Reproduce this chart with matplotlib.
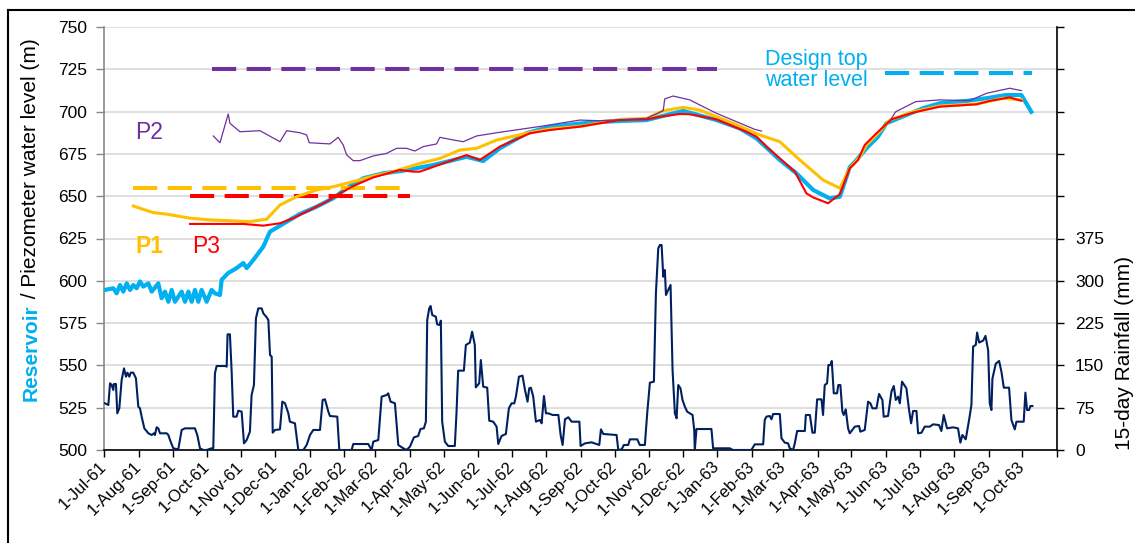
import matplotlib
matplotlib.use('Agg')
import matplotlib.pyplot as plt
from matplotlib.lines import Line2D
import numpy as np
from datetime import datetime, timedelta

plt.rcParams['font.family'] = ['Liberation Sans', 'DejaVu Sans']

START = datetime(1961, 7, 1)   # day 0 of all "day" values below

# ---------------- data: (days since 1-Jul-61, value) ----------------
reservoir = [(0.9,594.6),(8.3,595.6),(11.3,592.6),(14.3,597.5),(17.3,593.6),(20.3,598.5),(23.3,594.6),
             (26.2,597.5),(29.2,595.6),(32.2,599.6),(35.2,596.6),(39.7,598.5),(42.7,593.6),(48.6,598.5),
             (51.6,589.7),(54.6,593.6),(57.6,587.6),(60.6,594.6),(63.5,587.6),(66.5,590.6),(69.5,593.6),
             (72.5,587.6),(75.5,593.6),(78.5,587.6),(81.4,594.6),(84.4,587.6),(87.4,594.6),(91.9,587.6),
             (96.3,594.6),(99.3,592.6),(103.8,591.6),(105.3,600.6),(111.2,604.6),(118.7,607.5),(124.7,610.5),
             (127.7,607.5),(133.6,612.3),(142.6,620.2),(148.5,629.0),(163.5,634.9),(175.4,639.5),(190.3,643.8),
             (205.2,648.8),(217.2,654.7),(232,660.6),(249.9,663.5),(265,664.8),(294.7,668.4),(324.5,673.3),
             (339.4,670.8),(354.3,678.3),(378.2,687.2),(399,691.1),(428.9,693.1),(458.7,694.4),(485.6,695),
             (518.4,700.4),(548.2,695),(569,690.1),(584,684.2),(604.9,671.4),(619.8,663.5),(634.7,653.7),
             (649.6,648.7),(658.6,649.7),(667.5,667.1),(673.5,671.4),(682.4,678.3),(692.8,685.2),(700.3,693.1),
             (718.2,698),(733.1,702),(748,704.9),(771.9,706.3),(789.8,707.9),(807.7,709.8),(821.1,709.8),
             (830,699.9)]

p1 = [(26.2,644.2),(44.1,640.3),(56.1,639.4),(77,637),(94.8,636),(115.7,635.4),(130.6,635),(145.6,636.4),
      (157.5,644.8),(172.4,649.7),(190.3,653.7),(205.2,655.6),(223.1,658.6),(241,661.9),(258.9,664.5),
      (282.7,669.4),(300.6,672.3),(318.5,677.3),(333.5,678.3),(351.4,683.2),(378.2,687.2),(399,689.7),
      (428.9,691.5),(461.7,695.4),(485.6,696),(500.5,700.5),(518.4,702.5),(533.3,700.9),(563.1,693.1),
      (587,686.2),(604.9,682.2),(622.8,671.4),(643.6,659.6),(658.6,654.7),(667.5,666.5),(676.5,673.3),
      (682.4,680.3),(691.4,686.2),(703.3,695),(724.2,699.9),(748,703.3),(780.9,704.5),(804.7,707.9),
      (821.1,706.9)]

p3 = [(77,633.6),(124.7,633.6),(142.6,632.6),(157.5,634),(169.4,637),(181.4,640.9),(199.3,646.8),
      (211.2,651.7),(223.1,656),(241,661.1),(264.9,665.5),(276.8,664.5),(282.7,664.5),(324.5,674.3),
      (336.4,671.4),(354.3,679.3),(381.2,687.2),(399,689.1),(425.9,691.1),(443.8,693.1),(461.7,695),
      (485.6,695.4),(497.5,696.9),(515.4,698.6),(524.4,698.4),(548.2,695.4),(575,688.1),(584,685.2),
      (593,679.3),(618.3,664.5),(628.7,651.7),(634.7,649.3),(648.1,645.8),(658.6,651.2),(667.5,666.5),
      (674.9,671.4),(680.9,680.3),(691.4,687.2),(704.8,695.4),(724.2,699.4),(748,702.9),(780.9,704.3),
      (792.8,706.3),(810.7,708.4),(821.1,706.4)]

p2 = [(97.8,685.6),(103.8,681.6),(111.2,698.6),(112.7,693.1),(121.7,688.1),(139.6,688.7),(157.5,682.2),
      (163.5,688.7),(175.4,687.5),(181.4,686.2),(183.7,681.6),(202.2,680.9),(209.6,684.8),(214.1,680.3),
      (217.2,674.4),(223.1,671),(229,671),(241,673.8),(252.9,675.3),(261.9,678.3),(270.8,678.3),
      (278.3,676.7),(285.7,679.3),(297.7,680.9),(300.6,684.8),(309.6,683.6),(321.5,682.2),(333.5,685.6),
      (351.4,687.5),(393.1,691.5),(425.9,695),(443.8,694.6),(485.6,696),(500.5,700.5),(501.9,707.5),
      (509.4,709.2),(524.4,706.9),(533.3,703.9),(548.2,699),(582.5,689.5),(588.5,688.5),(650,np.nan),
      (704.8,696),(708.6,699.9),(726.5,705.9),(748,706.9),(774.9,706.5),(789.8,710.8),(810.7,713.8),
      (821.1,712.4)]

rainfall = [(0.9,82.8),(3.9,79.8),(5.4,118.2),(6.9,115.2),(8.3,106.4),(8.9,117),(10.7,117),(11.9,65.0),
            (13.7,73.9),(15.8,124.1),(17.9,144.8),(19.7,130),(20.9,137.1),(22.7,130),(23.9,137.1),
            (26.2,137.1),(28.6,127.1),(30.7,76.9),(32.2,73.9),(33.7,59.1),(36.1,38.4),(39.7,29.6),
            (42.7,26.6),(44.7,29.6),(45.6,26.6),(47.1,40.2),(48.6,38.4),(50.1,29.6),(56.1,29.6),(57.6,26.6),
            (59.1,17.7),(62.0,3.0),(66.5,1.2),(69.5,35.5),(72.5,38.4),(81.4,38.4),(83.5,26.6),(85.9,3.0),
            (88.9,0),(91.9,0),(96.3,3.0),(97.8,3.0),(99.3,135.9),(100.8,148.9),(108.3,148.9),(109.8,147.8),
            (110.6,205.1),(112.7,205.1),(114.2,141.8),(115.7,59.1),(118.7,59.1),(120.2,69.7),(123.2,68.0),
            (125.3,11.8),(127.7,17.7),(130.6,32.5),(132.1,97.5),(134.2,115.2),(136.0,233.4),(138.1,251.1),
            (141.1,251.1),(142.6,242.3),(145.6,235.2),(147.1,230.5),(148.6,168.4),(150.1,165.5),(151.0,30.7),
            (153.1,35.5),(157.5,36.6),(159.6,85.7),(162.0,82.8),(165.0,65),(166.4,50.2),(170.9,47.3),
            (173.9,0),(178.4,0),(181.4,8.9),(184.4,26.6),(187.3,35.5),(193.3,35.5),(195.7,88.7),(197.8,89.8),
            (200.8,68),(202.2,60.3),(208.8,59.1),(210.6,0),(221.6,0),(223.1,10.6),(236.5,10.6),(239.5,0),
            (241.0,14.8),(245.5,17.7),(248.5,94.6),(253.0,97.5),(254.4,100.5),(256.5,85.7),(260.4,82.8),
            (263.4,8.9),(267.9,3.0),(270.8,0),(273.8,5.9),(277.4,22.4),(281.2,24.8),
            (283.3,37.2),(286.3,38.4),(288.1,50.2),(289.3,230.5),(291.1,251.1),(292.3,255.3),(293.8,239.4),
            (297.0,236.4),(298.2,222.8),(300.6,221.6),(301.5,229.3),(302.7,50.2),(305.1,14.8),(308.1,7.1),
            (314.0,7.1),(315.5,65),(317.0,140.7),(322.1,140.7),(323.9,186.2),(327.4,190.3),(329.5,209.8),
            (331.9,186.2),(332.8,111.1),(335.8,118.2),(337.3,159.5),(339.4,112.3),(343.0,110.5),(344.8,52),
            (348.4,50.2),(351.4,41.4),(352.9,10.6),(355.8,24.8),(359.7,28.4),(362.4,73.9),(364.8,82.7),
            (367.2,82.7),(368.7,94.6),(371.4,130),(374.6,131.8),(376.7,107.6),(379.1,85.7),(380.6,109.4),
            (382.1,110.5),(384.2,94.6),(386.6,50.2),(390.2,53.2),(391.7,47.3),(393.8,95.7),(395.6,65),
            (397.7,65),(401.6,62.1),(406.7,62.1),(408.7,26.6),(410.5,8.9),(412.6,54.4),(415.6,58.0),
            (418.6,50.2),(425.5,50.2),(426.6,7.1),(430.5,11.8),(436.5,13.6),(443.3,8.9),(444.8,36.6),
            (446.9,28.4),(458.8,26.6),(460.3,0),(463.3,1.2),(465.3,8.9),(469.2,8.9),(470.7,18.9),(477.3,18.9),
            (479.6,8.9),(484.1,8.9),(486.2,65),(488.6,119.4),(492.2,121.2),(494.0,277.8),(496.1,357.6),
            (497.6,363.5),(499.1,363.5),(500.6,307.3),(502.0,319.1),(503.0,274.8),(505.0,283.7),(507.1,292.5),
            (508.9,141.8),(511.0,65),(512.5,56.1),(514.0,115.2),(516.0,109.3),(517.8,88.7),(519.9,76.8),
            (522.0,67.9),(526.8,62.1),(528.3,35.5),(528.8,0),(530.3,37.2),(543.7,37.2),(545.2,3.0),
            (560.1,3.0),(563.0,0),(579.4,0),
            (582.5,10.0),(590.0,10.0),(591.4,53.2),(592.9,59.1),(595.9,60.3),(597.4,54.4),(598.9,63.8),
            (604.9,63.8),(606.4,20.7),(609.4,13.0),(612.3,11.8),(613.8,3.0),(616.8,0),(618.3,11.8),
            (620.4,33.7),(627.3,33.7),(628.2,62.1),(631.8,62.1),(634.1,30.7),(636.2,30.7),(638.3,89.8),
            (642.2,89.8),(643.6,62.1),(645.1,115.2),(647.2,118.2),(648.4,150.7),(650.2,150.7),(651.4,157.8),
            (653.2,100.5),(656.1,100.5),(657.3,115.2),(659.1,115.2),(660.9,68),(662.1,62.1),(663.9,72.1),
            (666.0,38.4),(667.5,29.6),(672.0,41.4),(675.8,42.6),(677.0,32.5),(680.9,35.5),(683.9,85.7),
            (686.0,82.7),(687.8,73.9),(691.4,73.9),(693.7,99.3),(696.7,88.7),(697.9,59.1),(701.8,60.3),
            (704.8,103.4),(706.9,113.5),(708.7,88.7),(710.8,94.6),(712.3,82.7),(714.3,121.2),(718.2,109.3),
            (720.6,70.9),(722.4,47.3),(724.2,69.2),(727.2,69.2),(728.7,29.6),(731.7,30.7),(734.6,41.4),
            (739.1,41.4),(742.1,45.5),(747.4,44.3),(749.5,33.7),(751.6,62.1),(754.6,38.4),(760.0,40.2),
            (764.4,38.4),(766.5,13.0),(768.3,26.6),(771.3,18.9),(774.3,53.2),(776.4,79.8),(777.9,183.4),
            (780.3,186.3),(781.5,208.2),(783.3,190.5),(786.9,194),(789.0,202.3),(791.4,176.3),(792.8,82.7),
            (794.3,70.9),(795.2,126.5),(798.2,153.1),(801.2,157.8),(803.3,138.3),(805.4,110.5),(810.1,110.5),
            (812.2,53.2),(815.2,36.6),(816.7,50.2),(823.2,50.2),(824.7,101.7),(826.2,70.9),(828.0,70.9),
            (829.2,78.0),(831.0,78.0)]

# design levels: (start day, end day, level)
p2_design = (97, 549, 725)
p1_design = (26, 274, 655)
p3_design = (77, 274, 650)
top_water_design = (699, 831, 723)

left_ticks = list(range(500, 751, 25))
right_ticks = list(range(0, 751, 75))
right_labelled_max = 375

CYAN = '#00B0F0'
ORANGE = '#FFC000'
RED = '#FF0000'
PURPLE = '#7030A0'
NAVY = '#002060'


def to_dates(days):
    return [START + timedelta(days=float(d)) for d in days]


def split(pairs):
    d = [p[0] for p in pairs]
    v = [p[1] for p in pairs]
    return to_dates(d), v


W, H = 1135, 543
fig = plt.figure(figsize=(W / 100, H / 100), dpi=100)
ax = fig.add_axes([104 / W, 1 - 450 / H, (1057 - 104) / W, (450 - 27) / H])
ax2 = ax.twinx()

# grid
ax.set_ylim(500, 750)
ax.set_yticks(left_ticks)
ax.yaxis.grid(True, color='#D9D9D9', lw=1.2)
ax.set_axisbelow(True)

# series on primary axis
for pairs, col, lw, z in [(reservoir, CYAN, 3.0, 3), (p1, ORANGE, 2.2, 4), (p3, RED, 1.5, 5), (p2, PURPLE, 0.9, 6)]:
    x, y = split(pairs)
    ax.plot(x, y, color=col, lw=lw, zorder=z, solid_joinstyle='round')

# design lines
for (s, e, lvl), col in [(p2_design, PURPLE), (p1_design, ORANGE), (p3_design, RED), (top_water_design, CYAN)]:
    ax.plot(to_dates([s, e]), [lvl, lvl], color=col, lw=2.9, dashes=(6.0, 2.6), zorder=3,
            solid_capstyle='butt', dash_capstyle='butt')

# rainfall on secondary axis
rx, ry = split(rainfall)
ax2.plot(rx, ry, color=NAVY, lw=1.5)
ax2.set_ylim(0, 750)
ax2.set_yticks(right_ticks)
ax2.set_yticklabels([str(t) if t <= right_labelled_max else '' for t in right_ticks])

# x axis (monthly)
months = [datetime(1961 + (6 + i) // 12, (6 + i) % 12 + 1, 1) for i in range(29)]
ax.set_xlim(months[0], months[-1])
ax.set_xticks(months)
ax.set_xticklabels([f"1-{m:%b-%y}" for m in months[:-1]] + [''], rotation=45, ha='right',
                   va='center', rotation_mode='anchor', fontsize=12)
ax.tick_params(axis='x', direction='out', length=5, width=1, color='black', pad=5)
ax.tick_params(axis='y', direction='out', length=6, width=1, color='#898989', labelsize=12.5, pad=6)
ax2.tick_params(axis='y', direction='out', length=5, width=1, color='black', labelsize=12.5, pad=8)

for sp in ['top', 'right']:
    ax.spines[sp].set_visible(False)
for sp in ['top', 'left', 'bottom']:
    ax2.spines[sp].set_visible(False)
ax.spines['left'].set_color('#898989')
ax.spines['left'].set_linewidth(1.2)
ax.spines['bottom'].set_color('black')
ax.spines['bottom'].set_linewidth(1.2)
ax2.spines['right'].set_color('black')
ax2.spines['right'].set_linewidth(1.2)

# annotations
ax.text(START + timedelta(days=27.7), 687.4, 'P2', color=PURPLE, fontsize=16.5, va='center', ha='left')
ax.text(START + timedelta(days=28.6), 620.0, 'P1', color=ORANGE, fontsize=16.5, fontweight='bold',
        va='center', ha='left')
ax.text(START + timedelta(days=78.7), 620.0, 'P3', color=RED, fontsize=16.5, va='center', ha='left')
ax.text(START + timedelta(days=591.4), 724.6, 'Design top\nwater level', color=CYAN, fontsize=15.5,
        va='center', ha='left', linespacing=0.98)

# axis labels
t1 = fig.text(31 / W, 1 - 401 / H, 'Reservoir', rotation=90, color=CYAN, fontweight='bold',
              fontsize=15, ha='center', va='bottom')
ax.annotate(' / Piezometer water level (m)', xy=(0.5, 1.0), xycoords=t1, rotation=90,
            ha='center', va='bottom', fontsize=15, color='black', annotation_clip=False)
fig.text(1125 / W, 1 - 353 / H, '15-day Rainfall (mm)', rotation=90, fontsize=15,
         ha='center', va='center')

# figure frame (top and left edges visible)
fig.add_artist(Line2D([8 / W, 1], [1 - 10 / H, 1 - 10 / H], transform=fig.transFigure, color='black', lw=1.5))
fig.add_artist(Line2D([8 / W, 8 / W], [0, 1 - 10 / H], transform=fig.transFigure, color='black', lw=1.5))

fig.savefig('out.png', dpi=100)
